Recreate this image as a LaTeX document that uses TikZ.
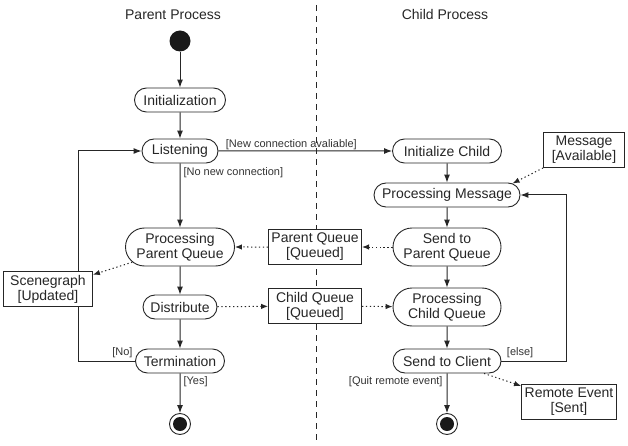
\documentclass[tikz,border=0pt]{standalone}
\usepackage{fontspec}
\setmainfont{Liberation Sans}
\usetikzlibrary{shapes.misc, arrows.meta, positioning}
\tikzstyle{flow} = [line width=1pt, draw=black!85, -{Latex[length=8pt,width=6pt]}]
\tikzstyle{msgflow} = [line width=1pt, draw=black!85, dash pattern=on 1.3pt off 2.6pt, -{Latex[length=7pt,width=5.5pt]}]

\begin{document}
\begin{tikzpicture}[
  x=1pt, y=-1pt,
  state/.style={rounded rectangle, draw=black!85, line width=0.9pt, minimum height=24pt,
    inner xsep=4pt, inner ysep=2pt, align=center, font=\fontsize{14}{15}\selectfont, text=black!85},
  object/.style={rectangle, draw=black!85, line width=0.9pt, fill=white, minimum height=35pt,
    inner xsep=3pt, align=center, font=\fontsize{14}{15}\selectfont, text=black!85},
  guard/.style={font=\fontsize{11}{12}\selectfont, text=black!80, inner sep=1pt},
  title/.style={font=\fontsize{14}{15}\selectfont, text=black!85},
  start/.style={circle, fill=black!90, minimum size=21pt, inner sep=0pt},
  stop/.style={circle, draw=black!85, line width=0.9pt, minimum size=21pt, inner sep=0pt,
    path picture={\fill[black!90] (path picture bounding box.center) circle (7pt);}}
]
\useasboundingbox (0,0) rectangle (628,446);

% swimlanes
\node[title] (ttlP) at (173,15) {Parent Process};
\node[title] (ttlC) at (445,15) {Child Process};
\coordinate (divT) at (316,5);
\coordinate (divB) at (316,441);
\draw[black!85, line width=0.9pt, dash pattern=on 6pt off 5pt] (divT) -- (divB);

% parent process
\node[start] (start) at (180,41) {};
\node[state, minimum width=99pt] (init) at (180,100) {Initialization};
\node[state, minimum width=84pt] (listen) at (180,151) {Listening};
\node[state, minimum width=117pt, minimum height=38pt] (ppq) at (180,247) {Processing\\Parent Queue};
\node[state, minimum width=82pt] (distr) at (180,307) {Distribute};
\node[state, minimum width=97pt] (term) at (180,361) {Termination};
\node[stop] (endP) at (180,424) {};

% child process
\node[state, minimum width=117pt] (initC) at (447,151) {Initialize Child};
\node[state, minimum width=154pt] (procM) at (447,195) {Processing Message};
\node[state, minimum width=116pt, minimum height=38pt] (sendPQ) at (447,247) {Send to\\Parent Queue};
\node[state, minimum width=116pt, minimum height=38pt] (pcq) at (447,307) {Processing\\Child Queue};
\node[state, minimum width=116pt] (sendC) at (447,361) {Send to Client};
\node[stop] (endC) at (447,424) {};

% loops back
\coordinate (backP) at (78,0);
\coordinate (backC) at (566,0);
\draw[flow] (term.west) -- node[guard, anchor=south east, pos=0, xshift=-1pt, yshift=2pt] {[No]}
  (term.west -| backP) |- (listen.west);
\draw[flow] (sendC.east) -- node[guard, anchor=south west, pos=0, xshift=4pt, yshift=2pt] {[else]}
  (sendC.east -| backC) |- (procM.east);

% objects
\node[object, minimum width=89pt] (scene) at (48,289) {Scenegraph\\{}[Updated]};
\node[object, minimum width=93pt] (pq) at (315,247) {Parent Queue\\{}[Queued]};
\node[object, minimum width=93pt] (cq) at (315,306) {Child Queue\\{}[Queued]};
\node[object, minimum width=81pt] (msg) at (584,150) {Message\\{}[Available]};
\node[object, minimum width=95pt] (remote) at (569,402) {Remote Event\\{}[Sent]};

% control flow
\draw[flow] (start) -- (init);
\draw[flow] (init) -- (listen);
\draw[flow] (listen) -- node[guard, anchor=west, pos=0.14, xshift=2pt] {[No new connection]} (ppq);
\draw[flow] (listen) -- node[guard, above, pos=0.42] {[New connection avaliable]} (initC);
\draw[flow] (ppq) -- (distr);
\draw[flow] (distr) -- (term);
\draw[flow] (term) -- node[guard, anchor=west, pos=0.2, xshift=2pt] {[Yes]} (endP);
\draw[flow] (initC) -- (procM);
\draw[flow] (procM) -- (sendPQ);
\draw[flow] (sendPQ) -- (pcq);
\draw[flow] (pcq) -- (sendC);
\draw[flow] (sendC) -- node[guard, anchor=east, pos=0.2, xshift=-3pt] {[Quit remote event]} (endC);

% object flow
\draw[msgflow] (msg.south west) -- (procM.10);
\draw[msgflow] (ppq) -- (scene);
\draw[msgflow] (pq) -- (ppq);
\draw[msgflow] (sendPQ) -- (pq);
\draw[msgflow] (distr) -- (cq);
\draw[msgflow] (cq) -- (pcq);
\draw[msgflow] (sendC) -- (remote);

\end{tikzpicture}
\end{document}
